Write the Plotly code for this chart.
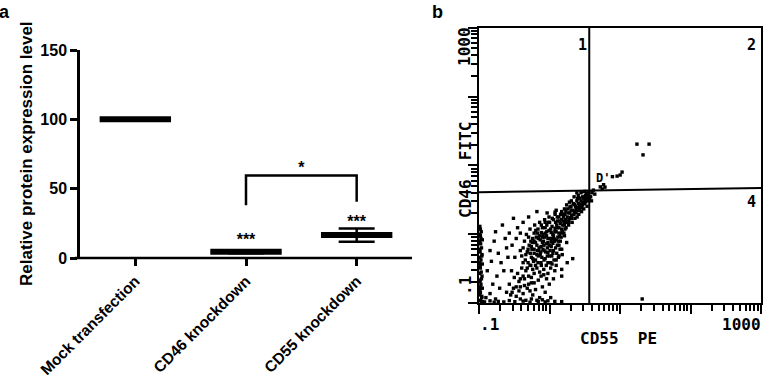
import plotly.graph_objects as go
import math

W, H = 764, 379

# ---------------- Panel a data ----------------
categories = ["Mock transfection", "CD46 knockdown", "CD55 knockdown"]
cat_pos = [0, 1, 2]
means = [100, 4.5, 16.5]
errors = [0, 1.0, 4.7]
bracket_x = [1, 1, 2, 2]
bracket_y = [38, 59.5, 59.5, 40.5]
star_text = ["***", "***", "*"]
star_x = [1, 2, 1.5]
star_y = [12.3, 25.2, 64]
yticks_a = [0, 50, 100, 150]

# ---------------- Panel b data (channels, 4-decade log scale 0..1023) ----------------
core_events = [
    (175,190),(182,215),(190,170),(195,240),(200,200),(205,225),(210,180),(212,260),(218,205),(222,235),
    (228,170),(230,280),(235,215),(238,245),(242,190),(246,265),(250,225),(252,300),(256,175),(258,240),
    (262,210),(265,285),(268,255),(270,195),(274,230),(278,300),(280,265),(284,215),(286,245),(290,280),
    (292,305),(295,230),(298,260),(300,200),(304,290),(306,320),(310,250),(312,275),(315,300),(318,225),
    (165,230),(168,160),(172,255),(178,150),(185,275),(188,140),(192,200),(198,155),(202,290),(208,245),
    (214,150),(216,195),(220,300),(226,140),(232,255),(236,160),(240,300),(244,140),(248,205),(254,320),
    (260,150),(264,175),(266,315),(272,160),(276,330),(282,185),(288,170),(294,200),(296,330),(302,180),
    (180,245),(186,185),(194,225),(206,270),(224,190),(234,230),(244,220),(254,270),(272,240),(282,290),
    (290,215),(308,260),(226,262),(262,262),(250,188),(276,278),(232,200),(268,222),(285,305),(240,280),
]
dense_events = [
    (200,230),(210,215),(220,250),(230,225),(240,260),(250,240),(260,275),(270,250),(280,235),(290,260),
    (300,275),(310,290),(320,300),(215,240),(225,210),(245,250),(255,215),(265,240),(275,265),(285,280),
    (295,295),(305,305),(190,210),(200,185),(212,195),(222,180),(236,195),(248,175),(258,195),(268,185),
    (278,205),(288,230),(298,245),(316,280),(326,300),(336,315),(246,290),(256,300),(270,310),(284,320),
    (214,275),(226,290),(238,310),(200,260),(188,230),(178,200),(170,180),(160,205),(155,175),(230,245),
    (262,228),(292,248),(302,265),(314,310),(324,335),(334,345),(290,320),(300,340),(280,345),(310,350),
    (160,100),(175,130),(190,95),(205,140),(220,115),(235,105),(250,150),(265,145),(280,160),(290,175),
    (195,165),(215,175),(150,90),(135,60),(165,65),(185,45),(145,45),(200,75),(125,55),(115,30),
]
streak_events = [
    (300,310),(305,330),(310,300),(315,340),(320,320),(322,350),(326,310),(330,335),(334,360),(336,325),
    (340,345),(342,370),(346,340),(350,360),(352,335),(355,380),(358,355),(360,370),(363,345),(366,390),
    (368,365),(370,380),(373,355),(376,395),(378,375),(380,390),(383,370),(386,400),(388,385),(390,405),
    (393,380),(396,395),(398,410),(400,388),(325,290),(338,300),(348,315),(356,320),(362,330),(372,340),
    (380,350),(392,360),(335,380),(345,395),(360,400),(370,410),(355,410),(384,415),(318,365),(328,375),
    (405,395),(410,410),(415,420),(408,380),(420,405),(352,352),(364,362),(374,372),(384,382),(394,392),
    (344,330),(354,345),(366,352),(376,365),(387,376),(397,402),(332,318),(312,330),(346,366),(358,388),
]
low_events = [
    (120,40),(135,25),(150,60),(160,35),(165,90),(170,120),(175,55),(180,100),(185,140),(190,75),
    (195,30),(200,110),(205,50),(210,130),(215,85),(220,20),(225,100),(230,60),(235,125),(240,40),
    (245,90),(250,110),(255,70),(260,130),(140,110),(145,80),(155,130),(128,95),(110,70),(118,120),
    (190,15),(210,10),(230,12),(250,8),(170,10),(150,15),(260,20),(275,120),(280,140),(300,125),
    (320,150),(340,165),(300,100),(270,90),(205,160),(225,150),(195,125),(240,165),(180,70),(160,150),
]
tail_events = [
    (125,315),(85,290),(60,265),(55,230),(40,195),(70,185),(100,205),(120,215),(45,155),(80,150),
    (95,240),(110,260),(140,280),(30,120),(65,100),(90,120),(50,70),(75,55),(40,35),(100,40),
    (25,20),(60,15),(130,170),(150,195),(150,260),(160,300),(135,240),(105,170),(247,335),(276,338),
    (180,320),(210,340),(330,357),
]
axis_events = [
    (6,10),(10,25),(5,40),(12,55),(7,70),(4,85),(11,100),(8,115),(5,130),(12,145),
    (7,160),(10,175),(4,190),(9,205),(6,220),(12,235),(5,250),(8,265),(10,20),(6,60),
    (9,90),(4,140),(11,180),(7,240),(5,275),(8,5),(12,5),
    (3,30),(3,50),(3,80),(3,110),(3,150),(3,170),(3,200),(3,230),(3,255),(3,285),
    (20,4),(40,8),(55,3),(70,6),(90,4),(110,9),(130,5),(160,7),(185,3),(215,5),(240,4),(275,6),(300,5),
]
upper_events = [
    (573,591),(617,591),(595,551),(512,476),(519,487),(501,472),(484,470),(447,424),(457,431),
    (440,432),(452,440),(592,15),
]
quad_x_gate = [400, 400]
quad_x_gate_y = [0, 1023]
quad_y_gate_x = [0, 1023]
quad_y_gate = [412, 428]
quadrant_labels = ["1", "2", "3", "4"]

fig = go.Figure()

# Panel a traces
fig.add_trace(go.Scatter(
    x=cat_pos, y=means, mode="markers",
    marker=dict(symbol="line-ew", size=51, color="black", line=dict(width=6, color="black")),
    error_y=dict(type="data", array=errors, visible=True, thickness=2.5, width=18, color="black"),
    xaxis="x", yaxis="y", showlegend=False, hoverinfo="skip"))
fig.add_trace(go.Scatter(
    x=bracket_x, y=bracket_y, mode="lines", line=dict(color="black", width=2.5),
    xaxis="x", yaxis="y", showlegend=False, hoverinfo="skip"))
fig.add_trace(go.Scatter(
    x=star_x, y=star_y, mode="text", text=star_text,
    textfont=dict(family="Liberation Sans, Arial", size=16, color="black", weight="bold"),
    xaxis="x", yaxis="y", showlegend=False, hoverinfo="skip"))

# Panel b traces
all_events = (core_events + dense_events + streak_events + low_events + tail_events
              + axis_events + upper_events)
fig.add_trace(go.Scatter(
    x=[e[0] for e in all_events], y=[e[1] for e in all_events], mode="markers",
    marker=dict(symbol="square", size=3.4, color="black", line=dict(width=0)),
    xaxis="x2", yaxis="y2", showlegend=False, hoverinfo="skip"))
fig.add_trace(go.Scatter(x=quad_x_gate, y=quad_x_gate_y, mode="lines",
    line=dict(color="black", width=2), xaxis="x2", yaxis="y2", showlegend=False))
fig.add_trace(go.Scatter(x=quad_y_gate_x, y=quad_y_gate, mode="lines",
    line=dict(color="black", width=2), xaxis="x2", yaxis="y2", showlegend=False))

decades = [0, 256, 512, 768, 1023]
minor_ticks = [d * 256 + 256 * math.log10(k) for d in range(4) for k in range(2, 10)]

bold = dict(family="Liberation Sans, Arial", size=16, color="black", weight="bold")
cat_font = dict(family="Liberation Sans, Arial", size=15.5, color="black", weight="bold")
mono = dict(family="DejaVu Sans Mono", size=16, color="black", weight="bold")
mono_q = dict(family="DejaVu Sans Mono", size=15, color="black", weight="bold")

fig.update_layout(
    width=W, height=H, margin=dict(l=0, r=0, t=0, b=0, autoexpand=False),
    paper_bgcolor="white", plot_bgcolor="white",
    xaxis=dict(domain=[80 / W, 412 / W], range=[-0.5, 2.5], anchor="y", automargin=False,
               tickmode="array", tickvals=cat_pos, ticktext=categories, tickangle=-45,
               ticks="outside", ticklen=7, tickwidth=2.5, tickcolor="black",
               showline=False, showgrid=False, zeroline=False, tickfont=cat_font),
    yaxis=dict(domain=[(H - 258) / H, (H - 50) / H], range=[0, 150], anchor="x", automargin=False,
               tickmode="array", tickvals=yticks_a,
               ticks="outside", ticklen=7, tickwidth=2.5, tickcolor="black",
               showline=True, linewidth=2.5, linecolor="black",
               showgrid=False, zeroline=False, tickfont=bold),
    xaxis2=dict(domain=[479 / W, 761 / W], range=[0, 1023], anchor="y2", automargin=False,
                tickmode="array", tickvals=decades, ticks="outside", ticklen=9, tickwidth=2,
                tickcolor="black", showticklabels=False,
                minor=dict(tickmode="array", tickvals=minor_ticks, ticks="outside", ticklen=6,
                           tickwidth=1.5, tickcolor="black"),
                showline=True, mirror=True, linewidth=2, linecolor="black",
                showgrid=False, zeroline=False),
    yaxis2=dict(domain=[(H - 303) / H, (H - 28) / H], range=[0, 1023], anchor="x2", automargin=False,
                tickmode="array", tickvals=decades, ticks="outside", ticklen=9, tickwidth=2,
                tickcolor="black", showticklabels=False,
                minor=dict(tickmode="array", tickvals=minor_ticks, ticks="outside", ticklen=6,
                           tickwidth=1.5, tickcolor="black"),
                showline=True, mirror=True, linewidth=2, linecolor="black",
                showgrid=False, zeroline=False),
)

# x-axis line of panel a (extends slightly left of the y axis)
fig.add_shape(type="line", xref="paper", yref="paper",
              x0=75 / W, x1=412 / W, y0=(H - 258) / H, y1=(H - 258) / H,
              line=dict(color="black", width=2.5))

def ann(text, px, py, font, angle=0, xanchor="center", yanchor="middle"):
    fig.add_annotation(text=text, xref="paper", yref="paper", x=px / W, y=1 - py / H,
                       showarrow=False, font=font, textangle=angle,
                       xanchor=xanchor, yanchor=yanchor)

ann("Relative protein expression level", 27, 154,
    dict(family="Liberation Sans, Arial", size=17, color="black", weight="bold"), angle=-90)
ann("a", 4, 12, dict(family="Liberation Sans, Arial", size=18, color="black", weight="bold"))
ann("b", 437, 12, dict(family="Liberation Sans, Arial", size=18, color="black", weight="bold"))

# flow panel texts
ann(".1", 478, 324, mono, xanchor="left")
ann("1000", 763, 324, mono, xanchor="right")
ann("CD55  PE", 618, 338, mono)
ann(".1", 465, 286, mono, angle=-90)
ann("1000", 465, 47, mono, angle=-90)
ann("CD46  FITC", 465, 170, mono, angle=-90)
ann(quadrant_labels[0], 582, 45, mono_q)
ann(quadrant_labels[1], 751, 45, mono_q)
ann(quadrant_labels[2], 584, 198, mono_q)
ann(quadrant_labels[3], 751, 202, mono_q)
ann("D'", 603, 178, dict(family="DejaVu Sans Mono", size=12, color="black", weight="bold"))

fig.write_html("out.html")
